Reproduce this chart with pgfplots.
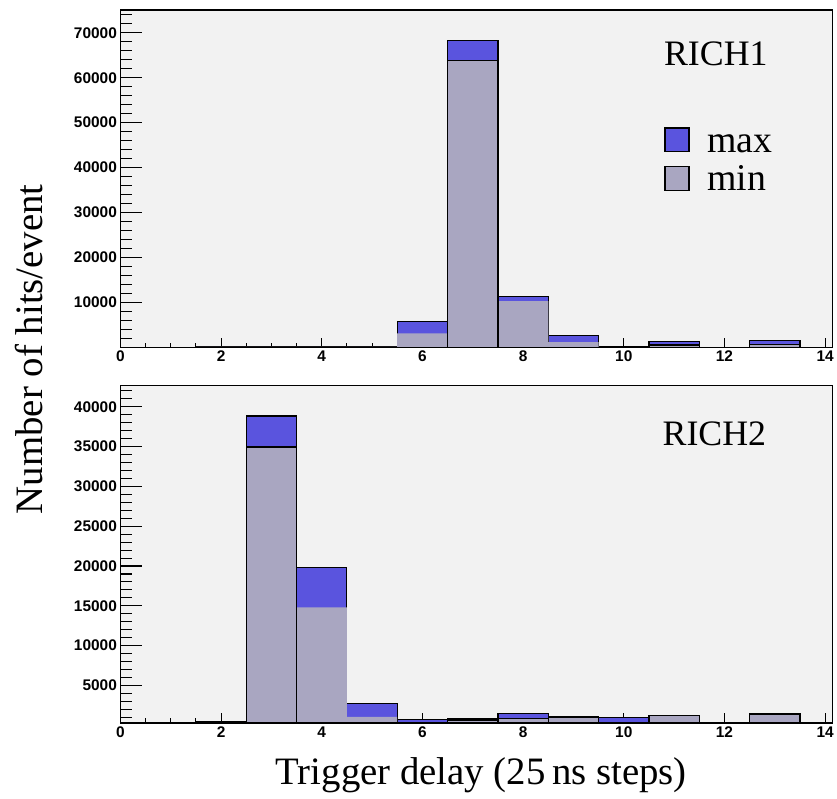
\documentclass[border=0pt]{standalone}
\usepackage{fontspec}
\setmainfont{Liberation Serif}
\setsansfont{Liberation Sans}
\usepackage{pgfplots}
\usepackage{pgfplotstable}
\pgfplotsset{compat=1.18}

\definecolor{maxblue}{RGB}{90,84,222}
\definecolor{mingray}{RGB}{169,166,193}
\definecolor{panelbg}{RGB}{242,242,242}

% left bin edges, bin content (last row closes the last bin)
\pgfplotstableread{
x     hmax   hmin
-0.5  0      0
0.5   0      0
1.5   100    150
2.5   100    150
3.5   100    150
4.5   100    150
5.5   5750   3160
6.5   68200  63870
7.5   11400  10300
8.5   2650   1170
9.5   250    0
10.5  1390   550
11.5  0      0
12.5  1600   650
13.5  0      0
14.5  0      0
}\richone

\pgfplotstableread{
x     hmax   hmin
-0.5  0      0
0.5   0      0
1.5   450    0
2.5   38840  34960
3.5   19800  14800
4.5   2680   1040
5.5   710    400
6.5   790    590
7.5   1460   840
8.5   900    1040
9.5   1000   0
10.5  1000   1250
11.5  0      0
12.5  1200   1420
13.5  0      0
14.5  0      0
}\richtwo

\pgfplotsset{
  panel/.style={
    scale only axis, width=716pt, height=339.4pt,
    xmin=0, xmax=14.15, anchor=south west,
    axis line style={line width=1.5pt},
    xtick pos=bottom, ytick pos=left,
    tick align=inside,
    every tick/.append style={black, line width=1.1pt},
    tick label style={font=\sffamily\bfseries\fontsize{15.5}{15.5}\selectfont},
    /pgf/number format/assume math mode=true,
    /pgf/number format/1000 sep={},
    scaled y ticks=false,
  },
  % background + x ticks (short)
  xpart/.style={panel,
    axis background/.style={fill=panelbg},
    xtick={0,2,...,14}, minor xtick={0.5,1,...,14},
    ytick=\empty,
    major tick length=9.5pt, minor tick length=5pt,
  },
  % y ticks (long) + histograms
  ypart/.style={panel,
    xtick=\empty,
    major tick length=21.7pt, minor tick length=11.7pt,
  },
  hist/.style={ybar interval, line width=1.2pt, forget plot},
}

\begin{document}
\begin{tikzpicture}
\path (0,0) rectangle (837pt,803pt);

% ---------------- RICH1 ----------------
\begin{axis}[xpart, name=top, at={(121pt,453.7pt)}, ymin=0, ymax=75100]
\end{axis}
\begin{axis}[ypart, at={(121pt,453.7pt)},
    ymin=0, ymax=75100,
    ytick={10000,20000,...,70000}, minor ytick={2000,4000,...,74000},
    legend image code/.code={
      \draw[#1, draw=black, line width=1.2pt] (0pt,-12pt) rectangle (24pt,12pt);
      \path[draw=none, fill=none] (0pt,0pt) -- (42.3pt,0pt);},
    legend style={draw=none, fill=none, at={(0.7636,0.6678)}, anchor=north west,
      font=\fontsize{38}{40}\selectfont, inner sep=0pt, row sep=3.4pt, column sep=0pt,
      nodes={inner sep=0pt, text height=30pt, text depth=5.6pt}},
    legend cell align=left,
  ]
  \addplot[hist, fill=maxblue, draw=black] table[x=x, y=hmax] {\richone};
  \addplot[hist, fill=mingray, draw=none] table[x=x, y=hmin] {\richone};
  \addplot[hist, fill=none, draw=black] coordinates {(6.5,63870) (7.5,63870)};
  \addplot[hist, fill=none, draw=black] coordinates {(10.5,550) (11.5,550)};
  \addplot[hist, fill=none, draw=black] coordinates {(12.5,650) (13.5,650)};
  \addlegendimage{fill=maxblue}
  \addlegendentry{max}
  \addlegendimage{fill=mingray}
  \addlegendentry{min}
  \node[anchor=base west, inner sep=0pt, font=\fontsize{36}{36}\selectfont]
    at (axis description cs:0.763,0.835) {RICH1};
\end{axis}

% ---------------- RICH2 ----------------
\begin{axis}[xpart, name=bot, at={(121pt,76.3pt)}, ymin=290, ymax=42700]
\end{axis}
\begin{axis}[ypart, at={(121pt,76.3pt)},
    ymin=290, ymax=42700,
    ytick={5000,10000,...,40000}, minor ytick={1000,2000,...,42000},
  ]
  \addplot[hist, fill=maxblue, draw=black] table[x=x, y=hmax] {\richtwo};
  \addplot[hist, fill=mingray, draw=none] table[x=x, y=hmin] {\richtwo};
  \addplot[hist, fill=none, draw=black] coordinates {(2.5,34960) (3.5,34960)};
  \addplot[hist, fill=none, draw=black] coordinates {(6.5,590) (7.5,840) (8.5,1040) (9.5,1040)};
  \addplot[hist, fill=none, draw=black] coordinates {(10.5,1250) (11.5,1250)};
  \addplot[hist, fill=none, draw=black] coordinates {(12.5,1420) (13.5,1420)};
  \node[anchor=base west, inner sep=0pt, font=\fontsize{36}{36}\selectfont]
    at (axis description cs:0.761,0.823) {RICH2};
\end{axis}

\draw[line width=1.5pt] (top.south west) rectangle (top.north east);
\draw[line width=1.5pt] (bot.south west) rectangle (bot.north east);

\node[rotate=90, anchor=base, inner sep=0pt, font=\fontsize{39}{39}\selectfont]
  at (43pt,452pt) {Number of hits/event};
\node[anchor=base, inner sep=0pt, font=\fontsize{39}{39}\selectfont]
  at (483.7pt,14.7pt) {Trigger delay (25\,ns steps)};
\end{tikzpicture}
\end{document}
